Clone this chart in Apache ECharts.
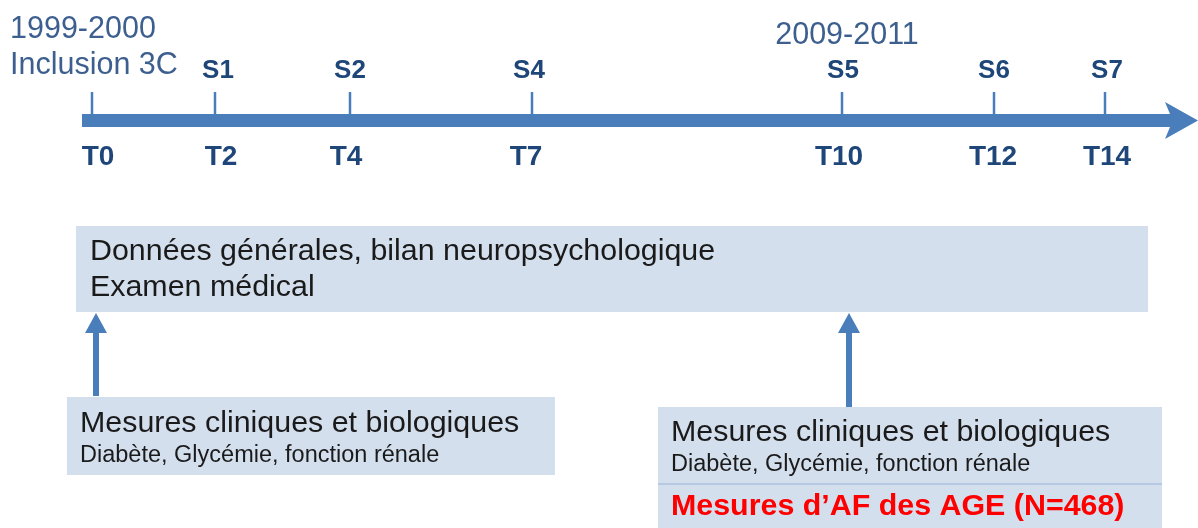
<!DOCTYPE html>
<html>
<head>
<meta charset="utf-8">
<script src="https://cdn.jsdelivr.net/npm/echarts@6/dist/echarts.min.js"></script>
<style>
  html, body { margin: 0; padding: 0; background: #fff; }
  #main { width: 1198px; height: 528px; }
</style>
</head>
<body>
<div id="main"></div>
<script>
// timepoints (years since inclusion) and follow-up waves
const timeLabels = ['T0', 'T2', 'T4', 'T7', 'T10', 'T12', 'T14'];
const waveLabels = ['', 'S1', 'S2', 'S4', 'S5', 'S6', 'S7'];
// position of each timepoint along the drawn axis (read from figure, not linear in years)
const tickPos = [92, 215, 350, 532, 842, 994, 1105];
const periodLabels = [['1999-2000', 'Inclusion 3C'], ['2009-2011']];
const topBoxLines = ['Données générales, bilan neuropsychologique', 'Examen médical'];
const measureTitle = 'Mesures cliniques et biologiques';
const measureDetail = 'Diabète, Glycémie, fonction rénale';
const ageLine = 'Mesures d\u2019AF des AGE (N=468)';

// small label nudges so they sit like in the source drawing
const timeLabelShift = [6, 6, -4, -6, -3, -1, 2];
const waveLabelShift = [0, 3, 0, -3, 1, 0, 2];

const FONT = '"Liberation Sans", Arial, sans-serif';
const BLUE = '#4a7ebb';
const DARK = '#1f4679';
const BOXFILL = '#d4dfee';

var myChart = echarts.init(document.getElementById('main'));

function txt(p, text, size, color, opts) {
  opts = opts || {};
  return {
    type: 'text',
    x: p[0], y: p[1],
    style: {
      text: text,
      fill: color,
      font: (opts.bold ? 'bold ' : '') + size + 'px ' + FONT,
      textAlign: opts.align || 'left',
      textVerticalAlign: 'middle'
    }
  };
}

let options = {
  animation: false,
  grid: { left: 0, right: 0, top: 0, bottom: 0 },
  xAxis: { type: 'value', min: 0, max: 1198, show: false },
  yAxis: { type: 'value', min: 0, max: 528, inverse: true, show: false },
  series: [
    { // main time arrow
      type: 'custom',
      data: [[82, 1198]],
      renderItem: function (params, api) {
        const c = (x, y) => api.coord([x, y]);
        const x0 = api.value(0), x1 = api.value(1);
        const pts = [c(x0, 114), c(1170, 114), c(1165, 102), c(x1, 120.5),
                     c(1165, 139), c(1170, 127), c(x0, 127)];
        return { type: 'polygon', shape: { points: pts }, style: { fill: BLUE } };
      }
    },
    { // ticks with wave / time labels
      type: 'custom',
      data: tickPos.map((x, i) => [x, i]),
      renderItem: function (params, api) {
        const c = (x, y) => api.coord([x, y]);
        const x = api.value(0), i = api.value(1);
        const children = [{
          type: 'line',
          shape: { x1: c(x, 92)[0], y1: c(x, 92)[1], x2: c(x, 115)[0], y2: c(x, 115)[1] },
          style: { stroke: BLUE, lineWidth: 2.5 }
        }];
        if (waveLabels[i]) children.push(txt(c(x + waveLabelShift[i], 71), waveLabels[i], 26, DARK, { bold: true, align: 'center' }));
        children.push(txt(c(x + timeLabelShift[i], 157), timeLabels[i], 28, DARK, { bold: true, align: 'center' }));
        return { type: 'group', children: children };
      }
    },
    { // period labels
      type: 'custom',
      data: [[10, 0], [847, 1]],
      renderItem: function (params, api) {
        const c = (x, y) => api.coord([x, y]);
        const x = api.value(0), i = api.value(1);
        const lines = periodLabels[i];
        const children = i === 0
          ? [txt(c(x, 30), lines[0], 30.5, '#3d5f8f'), txt(c(x, 66), lines[1], 30.5, '#3d5f8f')]
          : [txt(c(x, 36), lines[0], 30.5, '#3d5f8f', { align: 'center' })];
        return { type: 'group', children: children };
      }
    },
    { // boxes and arrows
      type: 'custom',
      data: [[0]],
      renderItem: function (params, api) {
        const c = (x, y) => api.coord([x, y]);
        const rect = (x0, y0, x1, y1) => {
          const a = c(x0, y0), b = c(x1, y1);
          return { type: 'rect', shape: { x: a[0], y: a[1], width: b[0] - a[0], height: b[1] - a[1] }, style: { fill: BOXFILL } };
        };
        const upArrow = (x, yBottom) => {
          const pts = [c(x - 3, yBottom), c(x - 3, 333), c(x - 11, 333), c(x, 313),
                       c(x + 11, 333), c(x + 3, 333), c(x + 3, yBottom)];
          return { type: 'polygon', shape: { points: pts }, style: { fill: BLUE } };
        };
        const sep = [c(658, 484), c(1162, 484)];
        return {
          type: 'group',
          children: [
            rect(76, 226, 1148, 312),
            txt(c(90, 252), topBoxLines[0], 30.4, '#1a1a1a'),
            txt(c(90, 288), topBoxLines[1], 30.4, '#1a1a1a'),
            upArrow(96, 396),
            rect(67, 397, 555, 475),
            txt(c(80, 424), measureTitle, 30.4, '#1a1a1a'),
            txt(c(80, 456), measureDetail, 23.5, '#1a1a1a'),
            upArrow(849, 408),
            rect(658, 407, 1162, 528),
            txt(c(671, 433), measureTitle, 30.4, '#1a1a1a'),
            txt(c(671, 465), measureDetail, 23.5, '#1a1a1a'),
            { type: 'line', shape: { x1: sep[0][0], y1: sep[0][1], x2: sep[1][0], y2: sep[1][1] },
              style: { stroke: '#b7c9e2', lineWidth: 2 } },
            txt(c(671, 507), ageLine, 30.4, '#ff0000', { bold: true })
          ]
        };
      }
    }
  ]
};
myChart.setOption(options);
</script>
</body>
</html>
